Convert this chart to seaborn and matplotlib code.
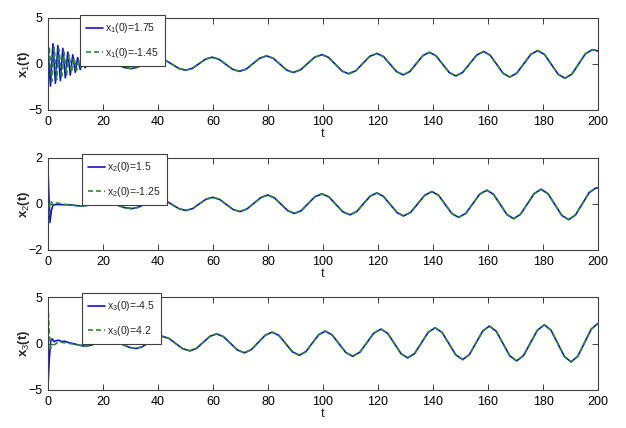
import matplotlib
matplotlib.use("Agg")
import matplotlib.pyplot as plt
import seaborn as sns
import pandas as pd

# ---------------- data ----------------
# Panel 1 : x1(t)
p1_blue_head_t = [0.0, 0.9, 1.8, 2.7, 3.6, 4.5, 5.4, 6.3, 7.2, 8.1, 9.0, 9.9, 10.8, 11.7, 12.6, 13.5, 14.4, 15.5, 17.0, 18.5]
p1_blue_head_v = [1.75, -2.4, 2.2, -2.1, 2.0, -1.8, 1.7, -1.5, 1.3, -1.2, 1.0, -0.9, 0.7, -0.6, 0.3, -0.4, 0.0, -0.15, 0.05, 0.25]
p1_green_head_t = [0.0, 0.45, 1.35, 2.25, 3.15, 4.05, 4.95, 5.85, 6.75, 7.65, 8.55, 9.45, 10.35, 11.25, 12.15, 13.05, 14.0, 15.5, 17.0, 18.5]
p1_green_head_v = [-1.45, 1.9, -1.9, 1.8, -1.7, 1.6, -1.5, 1.3, -1.2, 1.0, -0.9, 0.7, -0.7, 0.4, -0.5, 0.0, -0.2, -0.15, 0.05, 0.25]
p1_tail_t = [20.0, 22.6, 25.2, 27.7, 30.3, 32.7, 35.2, 37.6, 40.1, 42.6, 45.1, 47.6, 50.1, 52.5, 54.9, 57.3,
             59.7, 62.2, 64.65, 67.1, 69.6, 72.1, 74.55, 77.0, 79.5, 81.9, 84.35, 86.8, 89.2, 91.8, 94.4, 97.0,
             99.6, 102.0, 104.45, 106.9, 109.3, 111.9, 114.45, 117.0, 119.6, 122.0, 124.4, 126.8, 129.2, 131.6,
             133.95, 136.3, 138.7, 141.1, 143.5, 145.9, 148.3, 150.8, 153.35, 155.9, 158.4, 160.8, 163.15, 165.5,
             167.9, 170.45, 173.0, 175.55, 178.1, 180.6, 183.05, 185.5, 188.0, 190.5, 192.95, 195.4, 197.9, 199.0, 200.0]
p1_tail_v = [0.35, 0.23, -0.08, -0.38, -0.50, -0.34, 0.06, 0.46, 0.62, 0.43, -0.03, -0.49, -0.68, -0.47, 0.03, 0.53,
             0.74, 0.51, -0.03, -0.57, -0.80, -0.55, 0.04, 0.63, 0.88, 0.62, -0.02, -0.66, -0.92, -0.64, 0.05, 0.74,
             1.02, 0.72, -0.02, -0.76, -1.06, -0.74, 0.05, 0.83, 1.15, 0.81, -0.02, -0.84, -1.18, -0.82,
             0.05, 0.91, 1.27, 0.89, -0.02, -0.92, -1.30, -0.91, 0.03, 0.97, 1.36, 0.95, -0.03, -1.01,
             -1.42, -1.00, 0.02, 1.04, 1.46, 1.02, -0.05, -1.11, -1.55, -1.10, 0.0, 1.10, 1.55, 1.50, 1.40]

# Panel 2 : x2(t)
p2_blue_head_t = [0.0, 0.35, 0.7, 1.2, 1.8, 3.0, 5.0, 7.0, 9.0, 11.0, 13.0, 15.0, 17.5]
p2_blue_head_v = [1.45, 0.3, -0.8, -0.3, -0.05, -0.02, -0.03, -0.03, -0.05, -0.08, -0.08, -0.05, 0.03]
p2_green_head_t = [0.0, 0.4, 0.8, 1.3, 2.0, 3.0, 4.0, 5.0, 7.0, 9.0, 11.0, 13.0, 15.0, 17.5]
p2_green_head_v = [-1.2, -0.4, 0.15, 0.08, -0.05, 0.05, 0.03, -0.01, -0.03, -0.05, -0.08, -0.08, -0.05, 0.03]
p2_tail_t = [20.0, 22.6, 25.25, 27.9, 30.5, 32.9, 35.35, 37.8, 40.2, 42.7, 45.2, 47.7, 50.2, 52.6, 55.05, 57.5,
             59.9, 62.4, 64.85, 67.3, 69.8, 72.3, 74.85, 77.4, 79.9, 82.3, 84.75, 87.2, 89.6, 92.1, 94.6, 97.1,
             99.6, 102.15, 104.7, 107.25, 109.8, 112.25, 114.7, 117.15, 119.6, 122.0, 124.45, 126.9, 129.3, 131.9,
             134.45, 137.0, 139.6, 142.0, 144.45, 146.9, 149.3, 151.9, 154.45, 157.0, 159.6, 162.0, 164.45, 166.9,
             169.3, 171.8, 174.3, 176.8, 179.3, 181.8, 184.3, 186.8, 189.3, 191.8, 194.3, 196.8, 199.3, 200.0]
p2_tail_v = [0.10, 0.06, -0.05, -0.16, -0.20, -0.14, 0.01, 0.16, 0.22, 0.15, -0.03, -0.21, -0.28, -0.20, 0.01, 0.21,
             0.29, 0.20, -0.02, -0.24, -0.33, -0.22, 0.03, 0.28, 0.39, 0.27, -0.01, -0.29, -0.41, -0.29, 0.02, 0.32,
             0.44, 0.31, -0.02, -0.34, -0.47, -0.33, 0.01, 0.34, 0.48, 0.33, -0.02, -0.37, -0.52, -0.36,
             0.01, 0.38, 0.54, 0.38, -0.02, -0.42, -0.58, -0.41, 0.01, 0.43, 0.60, 0.42, -0.02, -0.46,
             -0.64, -0.45, 0.0, 0.45, 0.64, 0.45, -0.02, -0.49, -0.68, -0.48, 0.01, 0.50, 0.70, 0.69]

# Panel 3 : x3(t)
p3_blue_head_t = [0.0, 0.5, 1.0, 1.5, 2.2, 3.0, 4.0, 5.0, 6.0, 7.5, 9.0, 11.0, 13.5, 16.0, 19.0]
p3_blue_head_v = [-4.5, -1.5, 0.3, 0.5, 0.2, 0.3, 0.35, 0.2, 0.25, 0.1, 0.0, -0.15, -0.3, -0.15, 0.2]
p3_green_head_t = [0.0, 0.5, 1.0, 1.6, 2.5, 3.5, 4.5, 5.5, 7.0, 9.0, 11.0, 13.5, 16.0, 19.0]
p3_green_head_v = [4.2, 1.0, -0.5, -0.2, -0.1, 0.1, 0.15, 0.1, 0.05, -0.05, -0.15, -0.3, -0.15, 0.2]
p3_tail_t = [22.0, 24.5, 27.0, 29.5, 32.0, 34.3, 36.65, 39.0, 41.3, 43.9, 46.45, 49.0, 51.6, 54.0, 56.45, 58.9,
             61.3, 63.8, 66.35, 68.9, 71.4, 73.9, 76.45, 79.0, 81.5, 84.0, 86.45, 88.9, 91.4, 93.75, 96.1, 98.45,
             100.8, 103.3, 105.8, 108.3, 110.8, 113.4, 115.95, 118.5, 121.1, 123.5, 125.95, 128.4, 130.8, 133.3,
             135.8, 138.3, 140.8, 143.3, 145.8, 148.3, 150.8, 153.2, 155.65, 158.1, 160.5, 163.0, 165.45, 167.9,
             170.4, 172.9, 175.45, 178.0, 180.5, 182.9, 185.35, 187.8, 190.2, 192.65, 195.1, 197.55, 200.0]
p3_tail_v = [0.36, 0.23, -0.09, -0.41, -0.54, -0.35, 0.13, 0.60, 0.79, 0.56, 0.0, -0.56, -0.79, -0.52, 0.13, 0.77,
             1.04, 0.74, 0.02, -0.70, -1.00, -0.67, 0.11, 0.89, 1.22, 0.86, -0.02, -0.90, -1.26, -0.88, 0.04, 0.95,
             1.33, 0.93, -0.02, -0.97, -1.37, -0.94, 0.09, 1.12, 1.55, 1.10, 0.0, -1.10, -1.55, -1.08,
             0.07, 1.22, 1.69, 1.19, -0.02, -1.23, -1.73, -1.20, 0.07, 1.34, 1.87, 1.32, 0.0, -1.32,
             -1.87, -1.30, 0.07, 1.44, 2.01, 1.43, 0.02, -1.40, -1.98, -1.37, 0.09, 1.55, 2.16]

ylabels = [r"x$_1$(t)", r"x$_2$(t)", r"x$_3$(t)"]
blue_labels = [r"x$_1$(0)=1.75", r"x$_2$(0)=1.5", r"x$_3$(0)=-4.5"]
green_labels = [r"x$_1$(0)=-1.45", r"x$_2$(0)=-1.25", r"x$_3$(0)=4.2"]
ylims = [(-5, 5), (-2, 2), (-5, 5)]
yticks = [[-5, 0, 5], [-2, 0, 2], [-5, 0, 5]]
xticks = list(range(0, 201, 20))
xlabel = "t"

# ---------------- style ----------------
sns.set_style("ticks")
fam = "Liberation Sans"
plt.rcParams["font.family"] = [fam, "DejaVu Sans"]
plt.rcParams["mathtext.fontset"] = "custom"
plt.rcParams["mathtext.rm"] = fam
plt.rcParams["mathtext.it"] = fam
plt.rcParams["mathtext.bf"] = fam + ":bold"

BLUE = "#1010e0"
GREEN = "#2a8f2a"
EDGE = "#404040"

fig = plt.figure(figsize=(6.26, 4.28), dpi=100, facecolor="white")

W, H = 626.0, 428.0
ax_px = [(48, 18, 598, 110), (48, 158, 598, 250), (48, 297, 598, 390)]
leg_px = [(80, 15), (82, 154), (82, 293)]

panels = [
    (p1_blue_head_t, p1_blue_head_v, p1_green_head_t, p1_green_head_v, p1_tail_t, p1_tail_v),
    (p2_blue_head_t, p2_blue_head_v, p2_green_head_t, p2_green_head_v, p2_tail_t, p2_tail_v),
    (p3_blue_head_t, p3_blue_head_v, p3_green_head_t, p3_green_head_v, p3_tail_t, p3_tail_v),
]

for i, (bt, bv, gt, gv, tt, tv) in enumerate(panels):
    l, t, r, b = ax_px[i]
    ax = fig.add_axes([l / W, 1 - b / H, (r - l) / W, (b - t) / H])
    ax.set_facecolor("white")
    blue = pd.DataFrame({"t": bt + tt, "v": bv + tv})
    green = pd.DataFrame({"t": gt + tt, "v": gv + tv})
    sns.lineplot(data=blue, x="t", y="v", ax=ax, color=BLUE, linewidth=1.2,
                 estimator=None, sort=False, label=blue_labels[i])
    sns.lineplot(data=green, x="t", y="v", ax=ax, color=GREEN, linewidth=1.2,
                 linestyle=(0, (3.0, 1.8)), estimator=None, sort=False, label=green_labels[i])
    ax.set_xlim(0, 200)
    ax.set_ylim(*ylims[i])
    ax.set_xticks(xticks)
    ax.set_yticks(yticks[i])
    ax.tick_params(direction="in", top=True, right=True, length=4, width=0.7,
                   colors=EDGE, labelcolor="black", labelsize=9, pad=4)
    for s in ax.spines.values():
        s.set_color(EDGE)
        s.set_linewidth(0.8)
        s.set_visible(True)
    ax.set_xlabel(xlabel, fontsize=9.5, labelpad=0)
    ax.set_ylabel(ylabels[i], fontsize=9.5, fontweight="bold")
    ax.yaxis.set_label_coords(-0.03, 0.5)
    lx, ly = leg_px[i]
    ax_w, ax_h = r - l, b - t
    leg = ax.legend(loc="upper left",
                    bbox_to_anchor=((lx - l) / ax_w, (b - ly) / ax_h),
                    borderaxespad=0, frameon=True, fancybox=False, framealpha=1,
                    edgecolor=EDGE, fontsize=7.5, handlelength=1.6, handletextpad=0.2,
                    labelspacing=1.0, borderpad=0.6)
    leg.get_frame().set_linewidth(0.8)
    leg.set_zorder(10)

fig.savefig("out.png", dpi=100, facecolor="white")
